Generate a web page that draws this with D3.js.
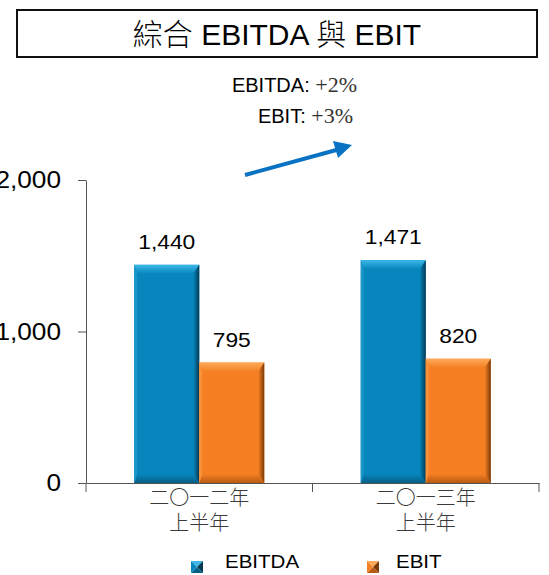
<!DOCTYPE html>
<html>
<head>
<meta charset="utf-8">
<script src="https://cdn.jsdelivr.net/npm/d3@7"></script>
<style>
html,body{margin:0;padding:0;background:#fff;}
svg{display:block;}
</style>
</head>
<body>
<svg id="chart" width="549" height="575"></svg>
<script>
const categories = [["二〇一二年","上半年"],["二〇一三年","上半年"]];
const categoryKeys = ["2012H1","2013H1"];
const seriesNames = ["EBITDA","EBIT"];
const ebitdaValues = [1440, 1471];
const ebitValues = [795, 820];
const yTicks = [0, 1000, 2000];
const titleText = "綜合 EBITDA 與 EBIT";
const growthLabels = [["EBITDA:", "+2%"],["EBIT:", "+3%"]];

const palette = {
  EBITDA: {base:"#0686BD", light:"#3DB8E8", dark:"#023A55", bottom:"#055E86", left:"#1A95C8"},
  EBIT:   {base:"#F57F22", light:"#FDAA5A", dark:"#7A3A08", bottom:"#B85A12", left:"#F8913A"}
};

const svg = d3.select("#chart");
const sans = "'Liberation Sans', Arial, 'Noto Sans CJK TC', sans-serif";
const serif = "'Liberation Serif', 'DejaVu Serif', 'Times New Roman', serif";

// Title box
svg.append("rect").attr("x",17).attr("y",10).attr("width",520).attr("height",47)
  .attr("fill","#fff").attr("stroke","#111").attr("stroke-width",2);
svg.append("text").attr("x",277).attr("y",45).attr("text-anchor","middle")
  .attr("font-family",sans).attr("font-size",30).attr("font-weight",300).attr("fill","#000").text(titleText);

// Growth annotation
const ann = [{right:357,y:92},{right:353,y:123}];
growthLabels.forEach((g,i)=>{
  const t = svg.append("text").attr("x",ann[i].right).attr("y",ann[i].y).attr("text-anchor","end")
    .attr("font-family",sans).attr("font-size",20).attr("fill","#000");
  t.append("tspan").text(g[0] + " ");
  t.append("tspan").style("font-family",serif).attr("font-size",22).attr("fill","#333").text(g[1]);
});
// Arrow
svg.append("line").attr("x1",245).attr("y1",175).attr("x2",340).attr("y2",149)
  .attr("stroke","#0A72C2").attr("stroke-width",4);
svg.append("path").attr("d","M352,145 L333,141 L338,158 Z").attr("fill","#0A72C2");

// Scales
const y = d3.scaleLinear().domain([0,2000]).range([483,180]);
const x = d3.scaleBand().domain(categoryKeys).range([86,539]).paddingInner(0).paddingOuter(0);
const xs = d3.scaleBand().domain(seriesNames).range([0,x.bandwidth()]).paddingInner(0).paddingOuter(0.742);

// Gradients
const defs = svg.append("defs");
seriesNames.forEach(s=>{
  const p = palette[s];
  const gTop = defs.append("linearGradient").attr("id","top-"+s).attr("x1",0).attr("y1",0).attr("x2",0).attr("y2",1);
  gTop.append("stop").attr("offset","0%").attr("stop-color",p.light);
  gTop.append("stop").attr("offset","100%").attr("stop-color",p.base);
  const gR = defs.append("linearGradient").attr("id","right-"+s).attr("x1",0).attr("y1",0).attr("x2",1).attr("y2",0);
  gR.append("stop").attr("offset","0%").attr("stop-color",p.base);
  gR.append("stop").attr("offset","100%").attr("stop-color",p.dark);
  const gB = defs.append("linearGradient").attr("id","bot-"+s).attr("x1",0).attr("y1",0).attr("x2",0).attr("y2",1);
  gB.append("stop").attr("offset","0%").attr("stop-color",p.base);
  gB.append("stop").attr("offset","100%").attr("stop-color",p.bottom);
});

// Axes
const yAxis = d3.axisLeft(y).tickValues(yTicks).tickSize(8).tickSizeOuter(0).tickFormat(d3.format(","));
const gy = svg.append("g").attr("transform","translate(86,0)").call(yAxis);
gy.select(".domain").attr("stroke","#555");
gy.selectAll(".tick line").attr("stroke","#555");
gy.selectAll(".tick text").remove();
yTicks.forEach(v=>{
  svg.append("text").attr("transform",`translate(61,${y(v)+8}) scale(1.14,1)`)
    .attr("text-anchor","end").attr("font-family",sans).attr("font-size",23).attr("fill","#000")
    .text(d3.format(",")(v));
});

const xAxis = d3.axisBottom(x).tickSize(0).tickSizeOuter(0).tickFormat("");
const gx = svg.append("g").attr("transform","translate(0,483)").call(xAxis);
gx.select(".domain").attr("stroke","#555");
gx.selectAll(".tick").remove();
const bounds = [x(categoryKeys[0]), x(categoryKeys[1]), x(categoryKeys[1])+x.bandwidth()];
gx.selectAll("line.bt").data(bounds).enter().append("line").attr("class","bt")
  .attr("x1",d=>d).attr("x2",d=>d).attr("y1",0).attr("y2",9).attr("stroke","#555");

// Category labels
categoryKeys.forEach((k,i)=>{
  const cx = x(k)+x.bandwidth()/2;
  categories[i].forEach((line,j)=>{
    svg.append("text").attr("x",cx).attr("y",505+j*25).attr("text-anchor","middle")
      .attr("font-family",sans).attr("font-size",20).attr("font-weight",300).attr("fill","#3a3a3a").text(line);
  });
});

// Bars
const data = [];
categoryKeys.forEach((k,i)=>{
  data.push({cat:k, s:"EBITDA", v:ebitdaValues[i]});
  data.push({cat:k, s:"EBIT", v:ebitValues[i]});
});
const bev = 9, bevR = 6, bevB = 9, bevL = 3;
const bars = svg.append("g").selectAll("g").data(data).enter().append("g")
  .attr("transform",d=>`translate(${x(d.cat)+xs(d.s)},${y(d.v)})`);
bars.each(function(d){
  const g = d3.select(this);
  const w = xs.bandwidth(), h = y(0)-y(d.v), p = palette[d.s];
  g.append("rect").attr("width",w).attr("height",h).attr("fill",p.base);
  g.append("path").attr("d",`M0,0 L${w},0 L${w-bevR},${bev} L${bevL},${bev} Z`).attr("fill",`url(#top-${d.s})`);
  g.append("path").attr("d",`M${w},0 L${w},${h} L${w-bevR},${h-bevB} L${w-bevR},${bev} Z`).attr("fill",`url(#right-${d.s})`);
  g.append("path").attr("d",`M0,${h} L${w},${h} L${w-bevR},${h-bevB} L${bevL},${h-bevB} Z`).attr("fill",`url(#bot-${d.s})`);
  g.append("path").attr("d",`M0,0 L${bevL},${bev} L${bevL},${h-bevB} L0,${h} Z`).attr("fill",p.left);
});

// Value labels
svg.append("g").selectAll("text").data(data).enter().append("text")
  .attr("transform",d=>`translate(${x(d.cat)+xs(d.s)+xs.bandwidth()/2},${y(d.v)-16}) scale(1.14,1)`)
  .attr("text-anchor","middle").attr("font-family",sans).attr("font-size",20).attr("fill","#000")
  .text(d=>d3.format(",")(d.v));

// Legend
const legendPos = [{mx:191, tx:225},{mx:367, tx:396}];
seriesNames.forEach((s,i)=>{
  const p = palette[s];
  const mx = legendPos[i].mx, my = 561, ms = 12;
  const g = svg.append("g").attr("transform",`translate(${mx},${my})`);
  const c = ms/2;
  g.append("path").attr("d",`M0,0 L${ms},0 L${c},${c} Z`).attr("fill",p.light);
  g.append("path").attr("d",`M${ms},0 L${ms},${ms} L${c},${c} Z`).attr("fill",p.dark);
  g.append("path").attr("d",`M0,${ms} L${ms},${ms} L${c},${c} Z`).attr("fill",p.bottom);
  g.append("path").attr("d",`M0,0 L0,${ms} L${c},${c} Z`).attr("fill",p.base);
  svg.append("text").attr("transform",`translate(${legendPos[i].tx},568) scale(1.14,1)`)
    .attr("font-family",sans).attr("font-size",18).attr("fill","#000").text(s);
});
</script>
</body>
</html>
